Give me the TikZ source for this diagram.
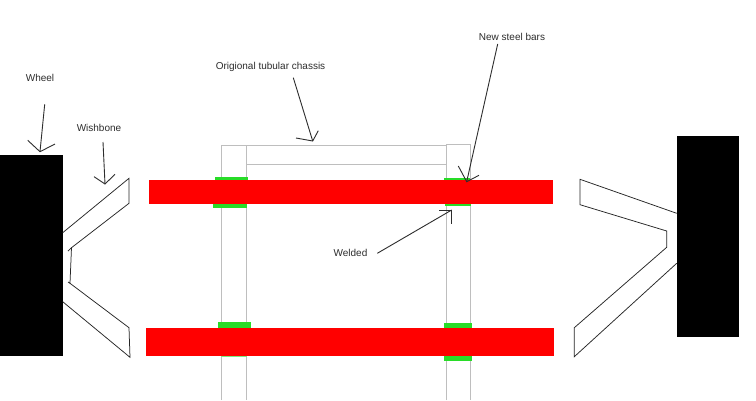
\documentclass[tikz,border=0pt]{standalone}
\usepackage{fontspec}
\setmainfont{Liberation Sans}
\definecolor{tube}{RGB}{190,190,190}
\definecolor{barred}{RGB}{255,0,0}
\definecolor{weld}{RGB}{40,220,40}
\definecolor{labelink}{RGB}{45,45,45}
\definecolor{arrowink}{RGB}{45,45,45}
\tikzset{
  x=1pt,y=-1pt,
  wheelbox/.style={fill=black,draw=none},
  barbox/.style={fill=barred,draw=none},
  weldbox/.style={fill=weld,draw=none},
  faintweld/.style={fill=weld!60!white,draw=none},
  tubeline/.style={draw=tube,line width=1pt},
  armline/.style={draw=black!85,line width=0.75pt,line join=miter},
  pointer/.style={draw=arrowink,line width=0.9pt},
  lbl/.style={font=\fontsize{10}{12}\selectfont,text=labelink,inner sep=0pt}
}
\begin{document}
\begin{tikzpicture}
\useasboundingbox (0,0) rectangle (756,400);
\fill[white] (0,0) rectangle (756,400);
% chassis
\draw[tubeline] (221.5,400) -- (221.5,145.3) -- (246.5,145.3) -- (246.5,400);
\draw[tubeline] (446.3,400) -- (446.3,144.5) -- (470,144.5) -- (470,400);
\draw[tubeline] (246.5,145.5) -- (446.3,145.5);
\draw[tubeline] (246.5,164.7) -- (446.3,164.7);
% welds
\fill[weldbox] (215,176.5) rectangle (248,181);
\fill[weldbox] (213,203) rectangle (246.5,208);
\fill[weldbox] (218,322) rectangle (250.5,329);
\fill[faintweld] (221,355) rectangle (246.5,357);
\fill[weldbox] (444,178) rectangle (470,182);
\fill[weldbox] (445.3,203) rectangle (471,206.3);
\fill[weldbox] (444,323) rectangle (472,330);
\fill[weldbox] (444,354) rectangle (472,361);
% bars
\fill[barbox] (149,180) rectangle (552.5,204);
\fill[barbox] (146,328) rectangle (553.5,356.2);
% wheels
\fill[wheelbox] (0,155) rectangle (62.7,356.3);
\fill[wheelbox] (676.7,135.7) rectangle (739.3,337);
% wishbones
\draw[armline] (62.7,232.7) -- (129,178.3) -- (129,203.3) -- (71.5,247.7) -- (68,251);
\draw[armline] (71.5,247.7) -- (70,283.3) -- (68,282);
\draw[armline] (70,283.3) -- (129,327.7) -- (130,357.3) -- (62.7,301.7);
\draw[armline] (676.7,213.3) -- (580,179.3) -- (580,204.7) -- (666.7,231) -- (666.7,247.3) -- (574.3,327.7) -- (574.3,356.7) -- (676.7,263.3);
% labels
\node[lbl] (wheel) at (40,77.8) {Wheel};
\node[lbl] (wish) at (99,128) {Wishbone};
\node[lbl] (orig) at (270.5,67) {Origional tubular chassis};
\node[lbl] (steel) at (512,37) {New steel bars};
\node[lbl] (welded) at (350.5,253.2) {Welded};
% pointers
\coordinate (wheelS) at (44.7,104.3);
\coordinate (wheelT) at (40,151.7);
\coordinate (wishS) at (103,142);
\coordinate (wishT) at (105,184);
\coordinate (origS) at (293.3,77.7);
\coordinate (origT) at (312.7,141);
\coordinate (steelS) at (497.7,44);
\coordinate (steelT) at (466.7,181.7);
\coordinate (weldS) at (377.3,253.3);
\coordinate (weldT) at (451.7,210);
\draw[pointer] (wheelS) -- (wheelT);
\draw[pointer] (27.7,140.3) -- (wheelT) -- (55,144);
\draw[pointer] (wishS) -- (wishT);
\draw[pointer] (94,176.7) -- (wishT) -- (115,174.3);
\draw[pointer] (origS) -- (origT);
\draw[pointer] (296,138) -- (origT) -- (318.3,130.7);
\draw[pointer] (steelS) -- (steelT);
\draw[pointer] (458.3,166) -- (steelT) -- (479,175.3);
\draw[pointer] (weldS) -- (weldT);
\draw[pointer] (439,210) -- (weldT) -- (451.7,224);
\end{tikzpicture}
\end{document}
